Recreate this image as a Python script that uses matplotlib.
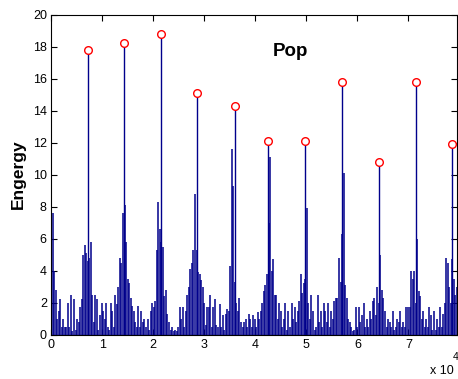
import matplotlib
matplotlib.use('Agg')
import matplotlib.pyplot as plt
import numpy as np

plt.rcParams['font.family'] = ['Liberation Sans', 'DejaVu Sans']

# energy envelope, one value every 300 samples
step = 300
energy = [
    6.0, 7.6, 4.0, 2.8, 1.0, 1.5, 2.2, 0.5, 1.0, 0.5, 0.5, 2.0, 0.5, 2.5, 0.2, 2.2,
    0.3, 1.0, 0.8, 1.7, 2.2, 5.0, 5.6, 5.1,
    4.6,
    4.8, 5.8, 2.5, 0.8, 2.5, 2.2, 0.3, 1.2, 2.0, 1.5, 1.0, 2.0, 0.5, 0.3, 2.0, 1.5,
    0.5, 2.5, 1.9, 3.0, 4.8, 4.5, 7.6,
    8.1,
    5.8, 3.5, 3.2, 2.3, 1.8, 1.5, 0.8, 0.5, 1.8, 0.5, 1.5, 0.8, 1.0, 0.5, 1.0, 0.3,
    1.5, 2.0, 1.7, 2.1, 5.3, 8.3, 6.6,
    5.8,
    5.5, 2.4, 2.8, 1.3, 0.8, 0.3, 0.5, 0.2, 0.3, 0.2, 0.5, 1.7, 1.0, 1.7, 0.5, 1.5,
    2.5, 3.0, 4.1, 4.5, 5.3, 8.8, 5.3,
    3.9, 3.8, 3.4, 3.0, 2.0, 0.6, 1.7, 1.7, 2.5, 0.5, 1.7, 2.2, 0.6, 0.5, 1.9, 0.5,
    1.2, 0.3, 1.3, 1.6, 1.5, 4.3, 11.6, 9.3,
    3.3, 2.0, 1.5, 2.3, 0.8, 0.5, 0.8, 1.0, 0.5, 1.3, 1.0, 0.5, 1.2, 1.0, 0.5, 1.4,
    1.0, 1.5, 2.0, 2.7, 3.1, 3.8,
    7.0, 11.1, 4.0, 4.7, 2.5, 2.5, 1.0, 2.0, 1.5, 0.5, 1.0, 2.0, 0.3, 1.5, 0.5, 2.0,
    1.0, 1.7, 0.8, 1.5, 2.1, 3.8, 2.6, 3.2,
    3.5, 7.9, 2.0, 1.0, 2.5, 1.5, 0.3, 0.5, 2.5, 0.8, 1.5, 0.5, 2.0, 1.5, 0.8, 2.0,
    0.5, 1.5, 1.0, 2.1, 2.3, 2.3, 4.8, 3.3,
    6.3, 10.1, 3.1, 2.3, 1.0, 0.8, 0.5, 0.2, 0.3, 1.7, 0.5, 1.7, 0.8, 1.2, 2.0, 0.5,
    1.0, 0.5, 1.5, 1.0, 2.1, 2.3, 1.2, 3.0,
    2.0, 5.0, 2.8, 2.3, 1.5, 0.5, 1.0, 0.8, 0.5, 1.5, 0.3, 0.5, 1.0, 0.8, 1.5, 0.5,
    0.8, 0.5, 1.7, 1.7, 1.7, 4.0, 3.5, 4.0, 2.0,
    6.0, 2.7, 2.4, 1.0, 1.5, 0.5, 1.0, 0.5, 1.7, 1.2, 0.3, 1.5, 0.3, 1.0, 0.5, 1.7,
    0.5, 1.3, 2.0, 4.8, 4.5, 3.0, 2.0, 4.7, 3.5, 2.5, 3.0,
]

# detected beat peaks
peak_x = [7160, 14320, 21480, 28650, 35940, 42450, 49680, 56970, 64300, 71550, 78600]
peak_y = [17.8, 18.2, 18.8, 15.1, 14.3, 12.1, 12.1, 15.8, 10.8, 15.8, 11.9]

x_ticks = [0, 10000, 20000, 30000, 40000, 50000, 60000, 70000]
x_ticklabels = ['0', '1', '2', '3', '4', '5', '6', '7']
y_ticks = list(range(0, 21, 2))

x = np.arange(len(energy)) * step

fig = plt.figure(figsize=(4.58, 3.79), dpi=100)
ax = fig.add_axes([51 / 458, 44.5 / 379, 406 / 458, 320 / 379])

blue = '#00008c'
ax.vlines(x, 0, energy, color=blue, linewidth=1.1)
ax.vlines(peak_x, 0, peak_y, color=blue, linewidth=1.0)
ax.plot(peak_x, peak_y, 'o', mfc='white', mec='red', ms=5.5, mew=1.0, clip_on=False, zorder=5)
ax.axhline(0, color=blue, linewidth=1.0)

ax.set_xlim(0, 79500)
ax.set_ylim(0, 20)
ax.set_xticks(x_ticks)
ax.set_xticklabels(x_ticklabels)
ax.set_yticks(y_ticks)
ax.tick_params(direction='in', length=4, width=0.8, top=True, right=True,
               labelsize=9, pad=3)
for s in ax.spines.values():
    s.set_linewidth(0.8)

ax.set_ylabel('Engergy', fontsize=12.5, fontweight='bold', labelpad=5)
ax.text(0.589, 0.883, 'Pop', transform=ax.transAxes, ha='center', va='center',
        fontsize=13.5, fontweight='bold')

fig.text(430 / 458, 1 - 371 / 379, 'x 10', fontsize=9, ha='left', va='center')
fig.text(453 / 458, 1 - 357 / 379, '4', fontsize=7.5, ha='left', va='center')

plt.savefig('out.png', dpi=100)
